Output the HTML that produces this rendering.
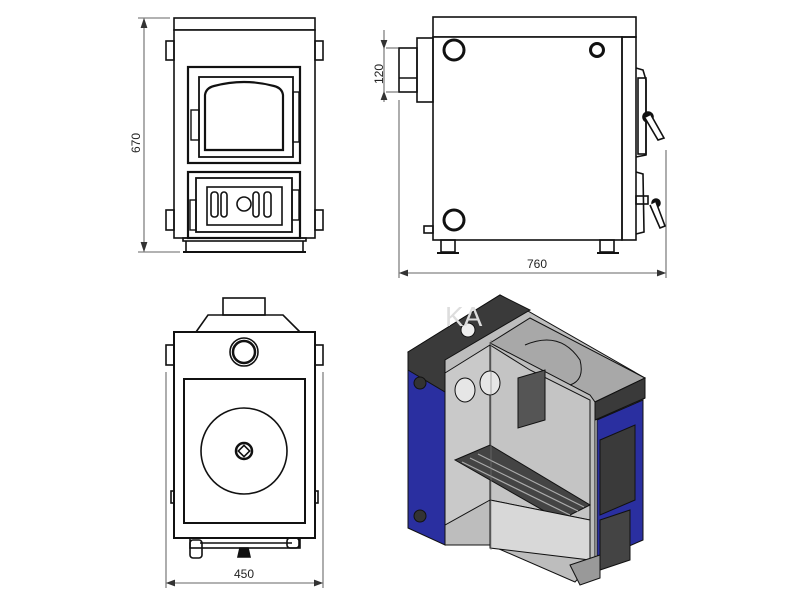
<!DOCTYPE html>
<html><head><meta charset="utf-8"><style>
html,body{margin:0;padding:0;background:#fff;}
svg{display:block}
text{font-family:"Liberation Sans",sans-serif;font-size:12px;fill:#222}
</style></head><body>
<svg width="800" height="600" viewBox="0 0 800 600" xmlns="http://www.w3.org/2000/svg">
<g fill="none" stroke="#111" stroke-width="1.6">
<!-- FRONT VIEW -->
<rect x="174" y="18" width="141" height="12" fill="#fff"/>
<rect x="174" y="30" width="141" height="208" fill="#fff"/>
<rect x="166" y="41" width="8" height="19"/><rect x="315" y="41" width="8" height="19"/>
<rect x="166" y="210" width="8" height="20"/><rect x="315" y="210" width="8" height="20"/>
<rect x="188" y="67" width="112" height="96" stroke-width="2.2"/>
<rect x="199" y="77" width="94" height="80" stroke-width="1.8"/>
<path d="M205,150 L205,95 Q206,88 214,86 Q244,78 274,86 Q282,88 283,95 L283,150 Z" stroke-width="2.2"/>
<rect x="191" y="110" width="8" height="30" stroke-width="1.4"/>
<rect x="293" y="92" width="6" height="50" stroke-width="1.4"/>
<rect x="188" y="172" width="112" height="66" stroke-width="2.2"/>
<rect x="196" y="178" width="96" height="54" stroke-width="1.8"/>
<rect x="207" y="187" width="75" height="38"/>
<rect x="211" y="192" width="7" height="25" rx="3"/><rect x="221" y="192" width="6" height="25" rx="3"/>
<circle cx="244" cy="204" r="7"/>
<rect x="253" y="192" width="6" height="25" rx="3"/><rect x="264" y="192" width="7" height="25" rx="3"/>
<rect x="190" y="200" width="6" height="30" stroke-width="1.4"/>
<rect x="292" y="190" width="7" height="30" stroke-width="1.4"/>
<rect x="183" y="238" width="123" height="3"/>
<line x1="186" y1="241" x2="186" y2="252"/><line x1="303" y1="241" x2="303" y2="252"/>
<line x1="183" y1="252" x2="306" y2="252" stroke-width="2"/>
</g>
<g stroke="#333" stroke-width="0.8" fill="none">
<line x1="138" y1="18" x2="170" y2="18"/><line x1="138" y1="252" x2="180" y2="252"/>
<line x1="144" y1="20" x2="144" y2="250"/>
<path d="M141,28 L144,19 L147,28" fill="#333"/><path d="M141,242 L144,251 L147,242" fill="#333"/>
</g>
<text x="140" y="143" transform="rotate(-90 140 143)" text-anchor="middle">670</text>

<!-- SIDE VIEW -->
<g fill="none" stroke="#111" stroke-width="1.6">
<rect x="433" y="17" width="203" height="20" fill="#fff"/>
<rect x="433" y="37" width="189" height="203" fill="#fff"/>
<rect x="622" y="37" width="14" height="203"/>
<rect x="417" y="38" width="16" height="64"/>
<rect x="399" y="48" width="18" height="44"/><line x1="399" y1="78" x2="417" y2="78"/>
<circle cx="454" cy="50" r="10" stroke-width="3"/>
<circle cx="597" cy="50" r="6.5" stroke-width="3"/>
<circle cx="454" cy="220" r="10" stroke-width="3"/>
<rect x="424" y="226" width="9" height="7"/>
<rect x="441" y="240" width="14" height="12"/><line x1="437" y1="253" x2="459" y2="253" stroke-width="2"/>
<rect x="600" y="240" width="14" height="12"/><line x1="597" y1="253" x2="619" y2="253" stroke-width="2"/>
<path d="M636,68 L643,70 L646,80 L646,155 L636,157" /><rect x="638" y="78" width="8" height="76"/>
<path d="M636,172 L643,174 L644,232 L636,234"/>
<circle cx="648" cy="117" r="5" fill="#111"/><path d="M645,118 L658,140 L664,138 L651,115" fill="#fff"/>
<circle cx="656" cy="203" r="4" fill="#111"/><path d="M650,205 L660,228 L665,226 L656,202" fill="#fff"/>
<rect x="636" y="196" width="12" height="8"/>
</g>
<g stroke="#333" stroke-width="0.8" fill="none">
<line x1="384" y1="30" x2="384" y2="102"/>
<line x1="386" y1="48" x2="399" y2="48"/><line x1="386" y1="92" x2="399" y2="92"/>
<path d="M381,40 L384,48 L387,40" fill="#333"/><path d="M381,100 L384,92 L387,100" fill="#333"/>
<line x1="399" y1="100" x2="399" y2="278"/><line x1="666" y1="150" x2="666" y2="278"/>
<line x1="400" y1="273" x2="665" y2="273"/>
<path d="M408,270 L400,273 L408,276" fill="#333"/><path d="M657,270 L665,273 L657,276" fill="#333"/>
</g>
<text x="383" y="74" transform="rotate(-90 383 74)" text-anchor="middle">120</text>
<text x="537" y="268" text-anchor="middle">760</text>

<!-- TOP VIEW -->
<g fill="none" stroke="#111" stroke-width="1.6">
<rect x="223" y="298" width="42" height="17"/>
<path d="M196,332 L208,315 L283,315 L300,332"/>
<rect x="174" y="332" width="141" height="206" fill="#fff" stroke-width="2"/>
<rect x="166" y="345" width="8" height="20"/><rect x="315" y="345" width="8" height="20"/>
<rect x="171" y="491" width="3" height="12"/><rect x="315" y="491" width="3" height="12"/>
<circle cx="244" cy="352" r="14"/><circle cx="244" cy="352" r="11" stroke-width="2.5"/>
<rect x="184" y="379" width="121" height="144" stroke-width="2"/>
<circle cx="244" cy="451" r="43"/>
<circle cx="244" cy="451" r="8" stroke-width="2.5"/><rect x="240" y="447" width="8" height="8" transform="rotate(45 244 451)"/>
<rect x="190" y="538" width="110" height="10"/>
<line x1="200" y1="543" x2="292" y2="543"/>
<rect x="190" y="540" width="12" height="18" rx="3"/>
<rect x="287" y="538" width="12" height="10" rx="3"/>
<path d="M240,548 L248,548 L250,557 L238,557 Z" fill="#111"/>
</g>
<g stroke="#333" stroke-width="0.8" fill="none">
<line x1="166" y1="372" x2="166" y2="588"/><line x1="323" y1="372" x2="323" y2="588"/>
<line x1="167" y1="583" x2="322" y2="583"/>
<path d="M175,580 L167,583 L175,586" fill="#333"/><path d="M314,580 L322,583 L314,586" fill="#333"/>
</g>
<text x="244" y="578" text-anchor="middle">450</text>

<!-- 3D VIEW -->
<g stroke="#111" stroke-width="1">
<polygon points="408,352 500,295 645,378 645,398 595,420 595,560 575,582 490,545 445,545 445,375" fill="#bdbdbd"/>
<polygon points="408,368 445,388 445,545 408,528" fill="#2a2fa0"/>
<polygon points="408,352 500,295 530,310 445,360 445,392 408,370" fill="#3a3a3a"/>
<polygon points="490,343 530,318 645,378 595,402 590,395" fill="#a8a8a8"/>
<polygon points="595,402 645,378 645,398 595,420" fill="#3a3a3a"/>
<polygon points="597,420 643,400 643,540 597,560" fill="#2a2fa0"/>
<path d="M525,345 Q560,330 580,360 Q585,380 570,385" fill="none"/>
<polygon points="445,373 490,345 490,500 445,525" fill="#c9c9c9"/>
<polygon points="490,345 530,370 590,400 590,520 490,500" fill="#c4c4c4"/>
<polygon points="518,378 545,370 545,420 518,428" fill="#555"/>
<ellipse cx="465" cy="390" rx="10" ry="12" fill="#e6e6e6"/>
<ellipse cx="490" cy="383" rx="10" ry="12" fill="#e6e6e6"/>
<polygon points="455,460 490,445 590,505 560,520" fill="#444"/>
<g stroke="#aaa" stroke-width="1.2">
<line x1="462" y1="462" x2="570" y2="515"/><line x1="470" y1="458" x2="578" y2="511"/><line x1="478" y1="454" x2="584" y2="507"/>
</g>
<polygon points="490,500 590,520 590,560 490,548" fill="#d8d8d8"/>
<polygon points="600,440 635,425 635,500 600,515" fill="#3a3a3a"/>
<polygon points="600,520 630,510 630,560 600,570" fill="#444"/>
<polygon points="570,565 600,555 600,578 580,585" fill="#999"/>
<circle cx="420" cy="383" r="6" fill="#333"/><circle cx="420" cy="516" r="6" fill="#333"/>
<circle cx="468" cy="330" r="7" fill="#eee"/>
</g>
<line x1="491" y1="340" x2="491" y2="550" stroke="#777" stroke-width="0.6"/>
<text x="445" y="326" style="font-size:28px;fill:#ddd">KA</text>
</svg>
</body></html>
